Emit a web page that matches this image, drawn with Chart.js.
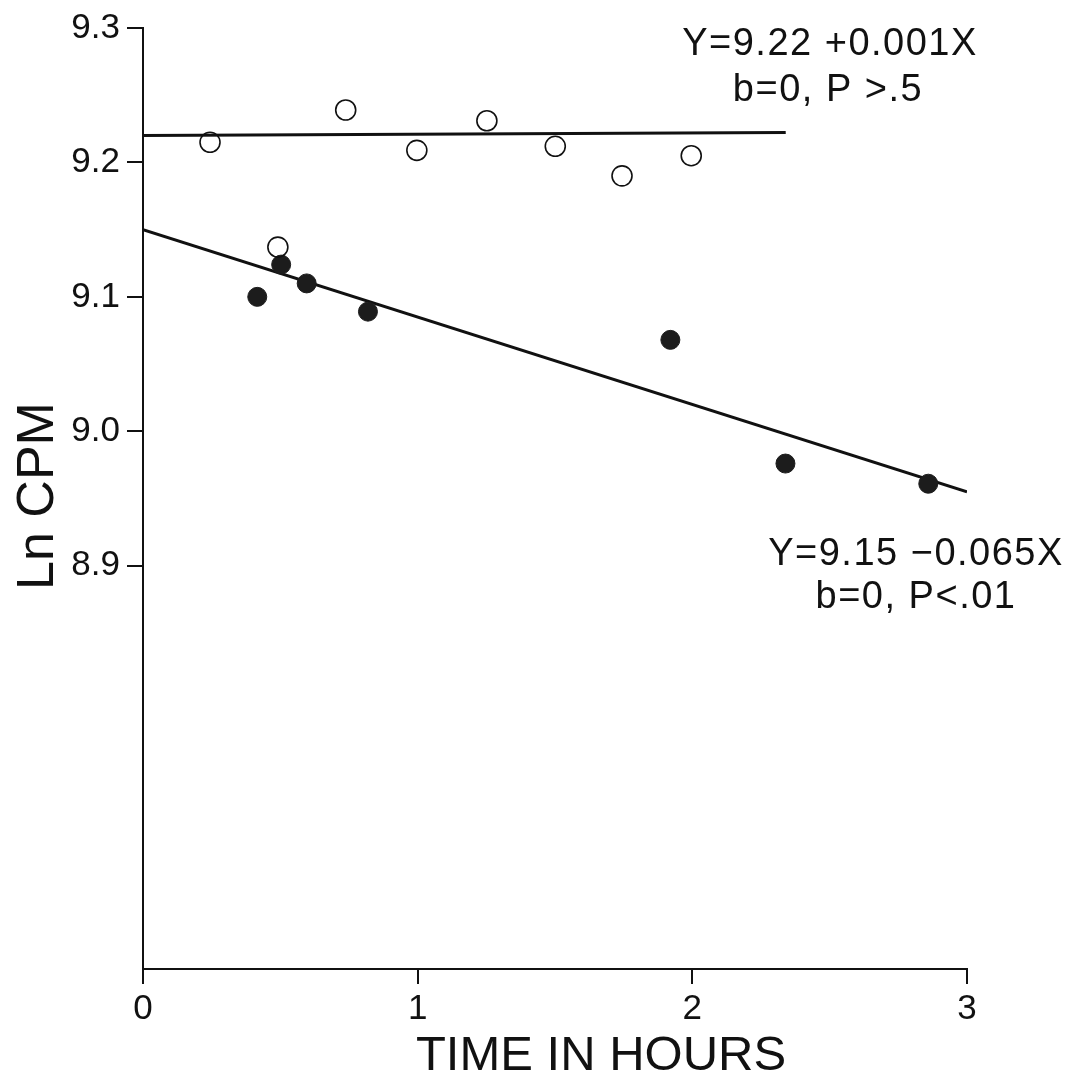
<!DOCTYPE html>
<html>
<head>
<meta charset="utf-8">
<title>Ln CPM vs time</title>
<script src="https://cdn.jsdelivr.net/npm/chart.js@4.4.1/dist/chart.umd.min.js"></script>
<style>
  html, body { margin: 0; padding: 0; background: #ffffff; }
  #chart { display: block; }
</style>
</head>
<body>
<canvas id="chart" width="1087" height="1076"></canvas>
<script>
// Axis ticks
const xTicks = [0, 1, 2, 3];
const yTicks = [8.9, 9.0, 9.1, 9.2, 9.3];

// Open circles
const openTime   = [0.244, 0.491, 0.738, 0.997, 1.252, 1.501, 1.744, 1.996];
const openLnCpm  = [9.215, 9.137, 9.239, 9.209, 9.231, 9.212, 9.190, 9.205];

// Filled circles
const filledTime  = [0.416, 0.503, 0.596, 0.819, 1.920, 2.339, 2.859];
const filledLnCpm = [9.100, 9.124, 9.110, 9.089, 9.068, 8.976, 8.961];

// Regression lines: intercept, slope, and the time span each one covers
const fitIntercepts = [9.22, 9.15];
const fitSlopes     = [0.001, -0.065];
const fitStart      = [0, 0];
const fitEnd        = [2.34, 3.0];
const fitStats      = ['b=0, P >.5', 'b=0, P<.01'];

const INK = '#111111';
const FONT = '"Liberation Sans", Arial, sans-serif';

function fitPoints(i) {
  return [fitStart[i], fitEnd[i]].map(t => ({ x: t, y: fitIntercepts[i] + fitSlopes[i] * t }));
}
function equationText(i) {
  const a = fitIntercepts[i].toFixed(2);
  const b = Math.abs(fitSlopes[i]).toFixed(3);
  const sign = fitSlopes[i] < 0 ? '\u2212' : '+';
  return 'Y=' + a + ' ' + sign + b + 'X';
}

// Axis titles and regression equations
const textPlugin = {
  id: 'figureText',
  afterDraw(chart) {
    const ctx = chart.ctx;
    const area = chart.chartArea;
    ctx.save();
    ctx.fillStyle = INK;

    // y title
    ctx.save();
    ctx.font = '52px ' + FONT;
    ctx.textAlign = 'center';
    ctx.textBaseline = 'alphabetic';
    ctx.translate(53, area.top + 468);
    ctx.rotate(-Math.PI / 2);
    ctx.fillText('Ln CPM', 0, 0);
    ctx.restore();

    // x title
    ctx.font = '49px ' + FONT;
    ctx.textAlign = 'center';
    ctx.textBaseline = 'alphabetic';
    ctx.fillText('TIME IN HOURS', area.left + 458, area.bottom + 101);

    // equations
    ctx.font = '38px ' + FONT;
    ctx.letterSpacing = '1.5px';
    ctx.fillText(equationText(0), area.left + 687, area.top + 27);
    ctx.fillText(fitStats[0], area.left + 685, area.top + 73);
    ctx.fillText(equationText(1), area.left + 773, area.top + 537);
    ctx.fillText(fitStats[1], area.left + 773, area.top + 580);
    ctx.restore();
  }
};

new Chart(document.getElementById('chart'), {
  type: 'scatter',
  data: {
    datasets: [
      {
        label: 'open',
        data: openTime.map((t, i) => ({ x: t, y: openLnCpm[i] })),
        pointStyle: 'circle',
        pointRadius: 10,
        pointBackgroundColor: 'rgba(255,255,255,0)',
        pointBorderColor: INK,
        pointBorderWidth: 1.6,
        order: 0
      },
      {
        label: 'filled',
        data: filledTime.map((t, i) => ({ x: t, y: filledLnCpm[i] })),
        pointStyle: 'circle',
        pointRadius: 9.5,
        pointBackgroundColor: '#1c1c1c',
        pointBorderColor: '#1c1c1c',
        pointBorderWidth: 1,
        order: 0
      },
      {
        label: 'fit open',
        type: 'line',
        data: fitPoints(0),
        showLine: true,
        borderColor: INK,
        borderWidth: 3,
        pointRadius: 0,
        fill: false,
        order: 1
      },
      {
        label: 'fit filled',
        type: 'line',
        data: fitPoints(1),
        showLine: true,
        borderColor: INK,
        borderWidth: 3,
        pointRadius: 0,
        fill: false,
        order: 1
      }
    ]
  },
  options: {
    responsive: false,
    animation: false,
    devicePixelRatio: 1,
    layout: { padding: { left: 0, right: 120, top: 23, bottom: 0 } },
    plugins: {
      legend: { display: false },
      tooltip: { enabled: false }
    },
    scales: {
      x: {
        type: 'linear',
        position: 'bottom',
        min: xTicks[0],
        max: xTicks[xTicks.length - 1],
        afterBuildTicks(scale) { scale.ticks = xTicks.map(v => ({ value: v })); },
        afterFit(scale) { scale.height = 107; },
        ticks: {
          color: INK,
          font: { family: FONT, size: 35 },
          padding: 4,
          maxRotation: 0,
          callback: v => String(v)
        },
        grid: {
          display: true,
          drawOnChartArea: false,
          drawTicks: true,
          tickLength: 15,
          color: INK,
          lineWidth: 2
        },
        border: { display: true, color: INK, width: 2 }
      },
      y: {
        type: 'linear',
        min: 8.6,
        max: 9.3,
        afterBuildTicks(scale) { scale.ticks = yTicks.map(v => ({ value: v })); },
        afterFit(scale) { scale.width = 143; },
        ticks: {
          color: INK,
          font: { family: FONT, size: 35 },
          padding: 7,
          callback: v => Number(v).toFixed(1)
        },
        grid: {
          display: true,
          drawOnChartArea: false,
          drawTicks: true,
          tickLength: 16,
          color: INK,
          lineWidth: 2
        },
        border: { display: true, color: INK, width: 2 }
      }
    }
  },
  plugins: [textPlugin]
});
</script>
</body>
</html>
